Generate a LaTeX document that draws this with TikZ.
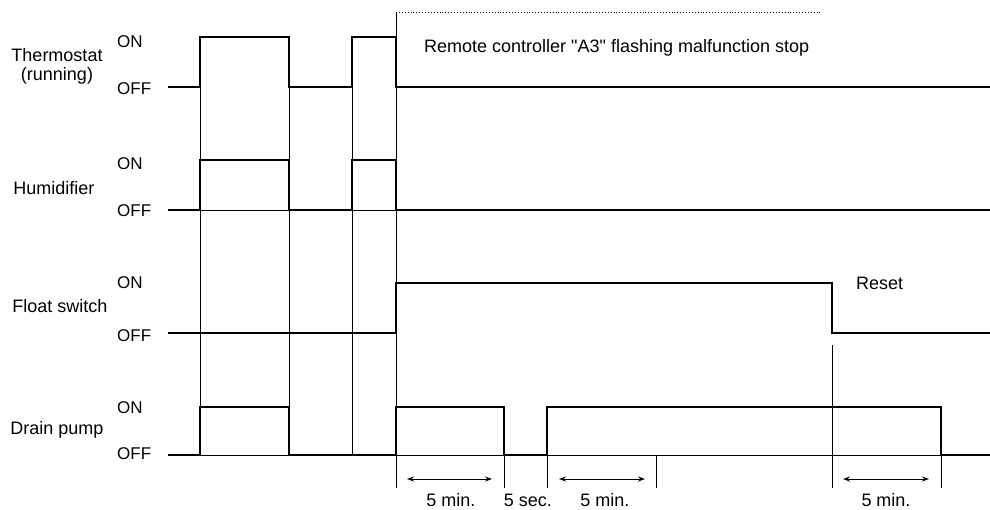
\documentclass[tikz,border=0pt]{standalone}
\usepackage{fontspec}
\setmainfont{Liberation Sans}
\usetikzlibrary{arrows.meta, positioning}

\begin{document}
\begin{tikzpicture}[%
    x=1pt, y=-1pt,                      % one unit = one pixel, y downwards
    font=\fontsize{18}{20}\selectfont,  % text size
    signal/.style={line width=2.6pt},   % thick signal line
    guide/.style={line width=0.9pt},    % thin guide line
    level/.style={anchor=west, inner sep=0pt, font=\fontsize{17}{19}\selectfont},
    note/.style={anchor=west, inner sep=0pt},
    caption/.style={align=center, inner sep=0pt},
    span/.style={<->, >={Stealth[length=7pt, width=5pt]}, line width=1pt}
]
    \useasboundingbox (0,0) rectangle (990,509);

    % ==========================================
    % 1. Row names and ON / OFF levels
    % ==========================================
    \node[caption] (thermo) at (57,66) {Thermostat\\[-1pt](running)};
    \node[caption] (humid)  at (54,188) {Humidifier};
    \node[caption] (float)  at (60,306) {Float switch};
    \node[caption] (drain)  at (57,430) {Drain pump};

    \foreach \r/\on/\off in {th/42/89, hu/164/211, fl/283/336, dr/408/454} {
        \node[level] (\r-on)  at (117,\on)  {ON};
        \node[level] (\r-off) at (117,\off) {OFF};
    }

    % ==========================================
    % 2. Thin guide lines
    % ==========================================
    % baselines under the pulses
    \draw[guide] (200,210) -- (990,210);
    \draw[guide] (168,455) -- (990,455);
    % edges carried down through all rows
    \foreach \t in {200, 289, 352}
        \draw[guide] (\t,37) -- (\t,455);
    \draw[guide] (396,12) -- (396,488);
    \draw[guide, dotted] (396,12) -- (820,12);
    \foreach \t in {504, 547, 941}
        \draw[guide] (\t,407) -- (\t,488);
    \draw[guide] (656,455) -- (656,488);
    \draw[guide] (832,345) -- (832,488);

    % ==========================================
    % 3. Signals
    % ==========================================
    % Thermostat
    \draw[signal] (168,87) -- (200,87) -- (200,37) -- (289,37) -- (289,87)
        -- (352,87) -- (352,37) -- (396,37) -- (396,87) -- (990,87);
    % Humidifier
    \draw[signal] (168,210) -- (200,210) -- (200,160) -- (289,160) -- (289,210)
        -- (352,210) -- (352,160) -- (396,160) -- (396,210) -- (990,210);
    % Float switch
    \draw[signal] (168,333) -- (396,333) -- (396,283) -- (832,283)
        -- (832,333) -- (990,333);
    % Drain pump
    \draw[signal] (168,455) -- (200,455) -- (200,407) -- (289,407) -- (289,455)
        -- (396,455) -- (396,407) -- (504,407) -- (504,455) -- (547,455)
        -- (547,407) -- (941,407) -- (941,455) -- (990,455);

    % ==========================================
    % 4. Notes and time spans
    % ==========================================
    \node[note] (stop)  at (424,48)
        {Remote controller \textquotedbl A3\textquotedbl\ flashing malfunction stop};
    \node[note] (reset) at (856,283) {Reset};

    \coordinate (a1) at (407,479);  \coordinate (b1) at (492,479);
    \coordinate (a2) at (559,479);  \coordinate (b2) at (645,479);
    \coordinate (a3) at (843,479);  \coordinate (b3) at (929,479);
    \draw[span] (a1) -- (b1);
    \draw[span] (a2) -- (b2);
    \draw[span] (a3) -- (b3);

    \node[caption] (first)  at (451,500) {5 min.};
    \node[caption] (pause)  at (528,500) {5 sec.};
    \node[caption] (second) at (605,500) {5 min.};
    \node[caption] (third)  at (886,500) {5 min.};

\end{tikzpicture}
\end{document}
